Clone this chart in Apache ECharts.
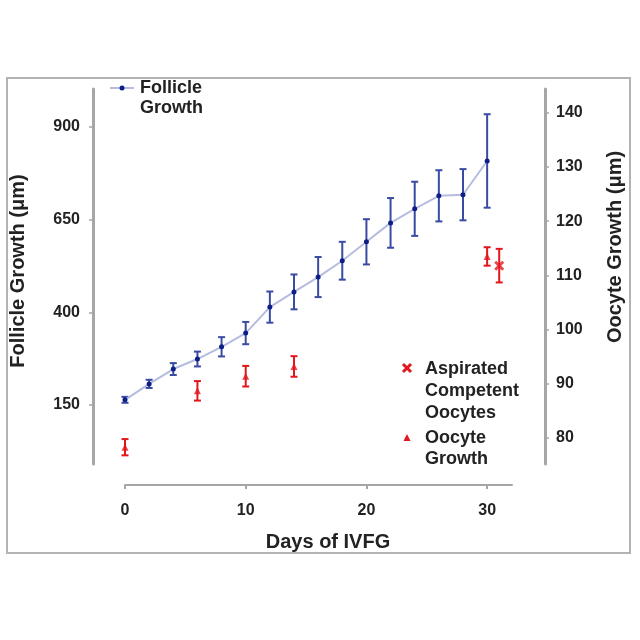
<!DOCTYPE html>
<html><head><meta charset="utf-8">
<script src="https://cdn.jsdelivr.net/npm/echarts@6/dist/echarts.min.js"></script>
<style>html,body{margin:0;padding:0;background:#fff}#c{width:640px;height:640px}</style>
</head><body><div id="c"></div>
<script>
// ---- data ----
const days = [0,2,4,6,8,10,12,14,16,18,20,22,24,26,28,30];
const follicleGrowth = [164,207,247,274,307,344,414,455,495,539,590,641,679,714,717,808];
const follicleErr = [8,11,16,20,26,30,42,47,54,51,61,67,73,69,69,126];
const oocyteDays = [0,6,10,14,30];
const oocyteGrowth = [78.3,88.7,91.4,93.2,113.5];
const oocyteErr = [1.5,1.8,1.9,1.9,1.7];
const aspiratedDays = [31];
const aspiratedGrowth = [111.8];
const aspiratedErr = [3.1];
const xTicks = [0,10,20,30];
const leftTicks = [150,400,650,900];
const rightTicks = [80,90,100,110,120,130,140];

const FONT = '"Liberation Sans", Arial, sans-serif';
const TXT = '#222';
const AXIS = '#a6a6a6';
const BLUE = '#0d1f86';
const BLUE_BAR = '#3a4ba3';
const BLUE_LINE = '#b6bce0';
const RED = '#e3161d';
const XPATH = 'path://M0,2 L2,0 L5,3 L8,0 L10,2 L7,5 L10,8 L8,10 L5,7 L2,10 L0,8 L3,5 Z';

function errorBars(xs, ys, errs, yAxisIndex, color, capW, lw) {
  return {
    type: 'custom', xAxisIndex: 0, yAxisIndex: yAxisIndex, silent: true, z: 1,
    data: xs.map((x, i) => [x, ys[i] - errs[i], ys[i] + errs[i]]),
    encode: { x: 0, y: [1, 2] },
    renderItem: function (params, api) {
      const lo = api.coord([api.value(0), api.value(1)]);
      const hi = api.coord([api.value(0), api.value(2)]);
      const st = { stroke: color, lineWidth: lw };
      return { type: 'group', children: [
        { type: 'line', shape: { x1: lo[0], y1: lo[1], x2: hi[0], y2: hi[1] }, style: st },
        { type: 'line', shape: { x1: lo[0] - capW, y1: lo[1], x2: lo[0] + capW, y2: lo[1] }, style: st },
        { type: 'line', shape: { x1: hi[0] - capW, y1: hi[1], x2: hi[0] + capW, y2: hi[1] }, style: st }
      ]};
    }
  };
}

const labelStyle = { color: TXT, fontSize: 16, fontWeight: 'bold', fontFamily: FONT };

const chart = echarts.init(document.getElementById('c'), null, { renderer: 'canvas' });
chart.setOption({
  animation: false,
  backgroundColor: '#fff',
  grid: { left: 125, right: 128, top: 89, bottom: 176, containLabel: false },
  xAxis: {
    type: 'value', min: 0, max: 32.06, offset: 21,
    axisLine: { onZero: false, lineStyle: { color: AXIS, width: 2 } },
    axisTick: { show: true, length: 4, lineStyle: { color: AXIS, width: 2 }, customValues: xTicks },
    axisLabel: Object.assign({ margin: 18, customValues: xTicks }, labelStyle),
    splitLine: { show: false }
  },
  yAxis: [
    {
      type: 'value', position: 'left', min: -9, max: 1002, offset: 32,
      axisLine: { show: true, onZero: false, lineStyle: { color: AXIS, width: 3 } },
      axisTick: { show: true, length: 4, lineStyle: { color: AXIS, width: 1.5 }, customValues: leftTicks },
      axisLabel: Object.assign({ margin: 13, customValues: leftTicks }, labelStyle),
      splitLine: { show: false }
    },
    {
      type: 'value', position: 'right', min: 75.2, max: 144.4, offset: 33,
      axisLine: { show: true, onZero: false, lineStyle: { color: AXIS, width: 3 } },
      axisTick: { show: true, length: 4, lineStyle: { color: AXIS, width: 1.5 }, customValues: rightTicks },
      axisLabel: Object.assign({ margin: 11, customValues: rightTicks }, labelStyle),
      splitLine: { show: false }
    }
  ],
  series: [
    errorBars(days, follicleGrowth, follicleErr, 0, BLUE_BAR, 3.5, 2),
    {
      name: 'Follicle Growth', type: 'line', xAxisIndex: 0, yAxisIndex: 0, z: 2,
      data: days.map((d, i) => [d, follicleGrowth[i]]),
      symbol: 'circle', symbolSize: 5,
      itemStyle: { color: BLUE },
      lineStyle: { color: BLUE_LINE, width: 2 }
    },
    errorBars(oocyteDays, oocyteGrowth, oocyteErr, 1, RED, 3.5, 2),
    {
      name: 'Oocyte Growth', type: 'scatter', xAxisIndex: 0, yAxisIndex: 1, z: 2,
      data: oocyteDays.map((d, i) => [d, oocyteGrowth[i]]),
      symbol: 'triangle', symbolSize: 7,
      itemStyle: { color: RED }
    },
    errorBars(aspiratedDays, aspiratedGrowth, aspiratedErr, 1, RED, 3.5, 2),
    {
      name: 'Aspirated Competent Oocytes', type: 'scatter', xAxisIndex: 0, yAxisIndex: 1, z: 2,
      data: aspiratedDays.map((d, i) => [d, aspiratedGrowth[i]]),
      symbol: XPATH, symbolSize: 10,
      itemStyle: { color: RED }
    }
  ],
  graphic: [
    { type: 'rect', shape: { x: 7, y: 78, width: 623, height: 475 }, style: { fill: 'none', stroke: '#b3b3b3', lineWidth: 2 }, z: 0, silent: true },
    // axis titles
    { type: 'text', x: 18, y: 271, rotation: Math.PI / 2,
      style: { text: 'Follicle Growth (μm)', fill: TXT, font: 'bold 20px ' + FONT, textAlign: 'center', textVerticalAlign: 'middle' } },
    { type: 'text', x: 615, y: 247, rotation: Math.PI / 2,
      style: { text: 'Oocyte Growth (μm)', fill: TXT, font: 'bold 20px ' + FONT, textAlign: 'center', textVerticalAlign: 'middle' } },
    { type: 'text', x: 328, y: 542,
      style: { text: 'Days of IVFG', fill: TXT, font: 'bold 20px ' + FONT, textAlign: 'center', textVerticalAlign: 'middle' } },
    // legend: Follicle Growth
    { type: 'line', shape: { x1: 110, y1: 88, x2: 134, y2: 88 }, style: { stroke: BLUE_LINE, lineWidth: 2 } },
    { type: 'circle', shape: { cx: 122, cy: 88, r: 2.5 }, style: { fill: BLUE } },
    { type: 'text', x: 140, y: 78,
      style: { text: 'Follicle\nGrowth', fill: TXT, font: 'bold 18px ' + FONT, lineHeight: 20, textVerticalAlign: 'top' } },
    // legend: Aspirated Competent Oocytes (X marker)
    { type: 'line', shape: { x1: 403, y1: 364, x2: 411, y2: 372 }, style: { stroke: RED, lineWidth: 3 } },
    { type: 'line', shape: { x1: 411, y1: 364, x2: 403, y2: 372 }, style: { stroke: RED, lineWidth: 3 } },
    { type: 'text', x: 425, y: 358,
      style: { text: 'Aspirated\nCompetent\nOocytes', fill: TXT, font: 'bold 18px ' + FONT, lineHeight: 22, textVerticalAlign: 'top' } },
    // legend: Oocyte Growth
    { type: 'polygon', shape: { points: [[407, 434], [410.5, 441], [403.5, 441]] }, style: { fill: RED } },
    { type: 'text', x: 425, y: 428,
      style: { text: 'Oocyte\nGrowth', fill: TXT, font: 'bold 18px ' + FONT, lineHeight: 21, textVerticalAlign: 'top' } }
  ]
});
</script>
</body></html>
